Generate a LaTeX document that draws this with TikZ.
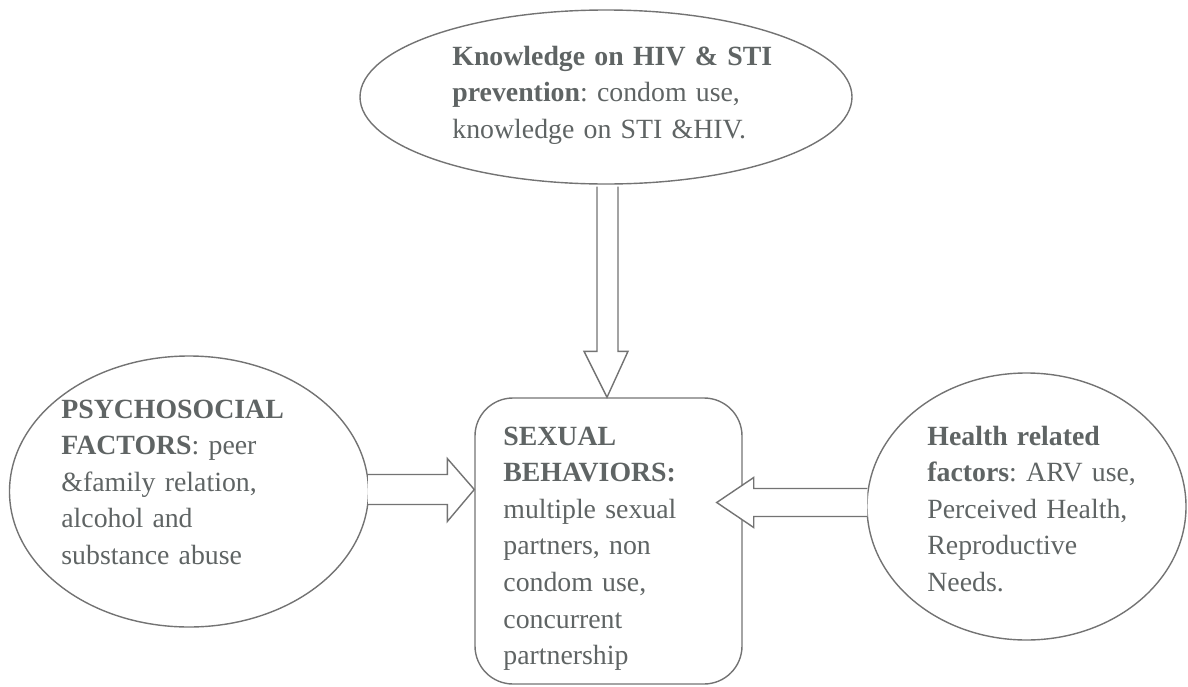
\documentclass[tikz,border=0pt]{standalone}
\usepackage{fontspec}
\setmainfont{Liberation Serif}
\usetikzlibrary{shapes.geometric,calc,positioning}
\definecolor{txtgray}{RGB}{95,100,100}
\definecolor{linegray}{RGB}{115,115,115}
\frenchspacing

\begin{document}
\begin{tikzpicture}[
    x=0.5pt, y=-0.5pt,
    font=\fontsize{13.9}{18.3}\selectfont,
    bubble/.style={ellipse, draw=linegray, line width=0.7pt},
    txt/.style={anchor=base west, inner sep=0pt, align=left, text width=180pt, text=txtgray},
    blockarrow/.style={draw=linegray, fill=white, line width=0.7pt, line join=miter}
]
    \useasboundingbox (0,0) rectangle (1188,686);

    % Central box
    \node[draw=linegray, line width=0.7pt, rounded corners=19pt,
          minimum width=133.5pt, minimum height=143pt] (sex) at (608.5,541) {};

    % Outer bubbles
    \node[bubble, minimum width=246pt, minimum height=87pt] (know) at (606,97) {};
    \node[bubble, minimum width=179.5pt, minimum height=135.5pt] (psy) at (189,491.5) {};
    \node[bubble, minimum width=159.5pt, minimum height=133.5pt] (hea) at (1026.5,506.5) {};

    % Arrow end points
    \coordinate (kt) at ($(know.south)+(1,2)$);
    \coordinate (kb) at (kt |- sex.north);
    \coordinate (lt) at ($(psy.east)+(-1,-2)$);
    \coordinate (lh) at (sex.west |- lt);
    \coordinate (rt) at ($(hea.west)+(1,-4)$);
    \coordinate (rh) at ($(sex.east |- rt)+(-26,0)$);

    % Block arrows
    \draw[blockarrow] ($(kt)+(-10,0)$) -- ($(kb)+(-10,-46)$) -- ($(kb)+(-23,-46)$) -- (kb)
        -- ($(kb)+(21,-46)$) -- ($(kb)+(11,-46)$) -- ($(kt)+(11,0)$);
    \draw[blockarrow] ($(lt)+(0,-15)$) -- ($(lh)+(-27,-15)$) -- ($(lh)+(-27,-31)$) -- (lh)
        -- ($(lh)+(-27,32)$) -- ($(lh)+(-27,15)$) -- ($(lt)+(0,15)$);
    \draw[blockarrow] ($(rt)+(0,-14)$) -- ($(rh)+(37,-14)$) -- ($(rh)+(37,-25)$) -- (rh)
        -- ($(rh)+(37,25)$) -- ($(rh)+(37,14)$) -- ($(rt)+(0,14)$);

    % Texts
    \node[txt] (knowtxt) at (452,65) {\textbf{Knowledge on HIV \& STI}\\
        \textbf{prevention}: condom use,\\ knowledge on STI \&HIV.};
    \node[txt] (psytxt) at (61,418) {\textbf{PSYCHOSOCIAL}\\ \textbf{FACTORS}: peer\\
        \&family relation,\\ alcohol and\\ substance abuse};
    \node[txt] (sextxt) at (503,445) {\textbf{SEXUAL}\\ \textbf{BEHAVIORS:}\\
        multiple sexual\\ partners, non\\ condom use,\\ concurrent\\ partnership};
    \node[txt] (heatxt) at (927,445) {\textbf{Health related}\\ \textbf{factors}: ARV use,\\
        Perceived Health,\\ Reproductive\\ Needs.};
\end{tikzpicture}
\end{document}
